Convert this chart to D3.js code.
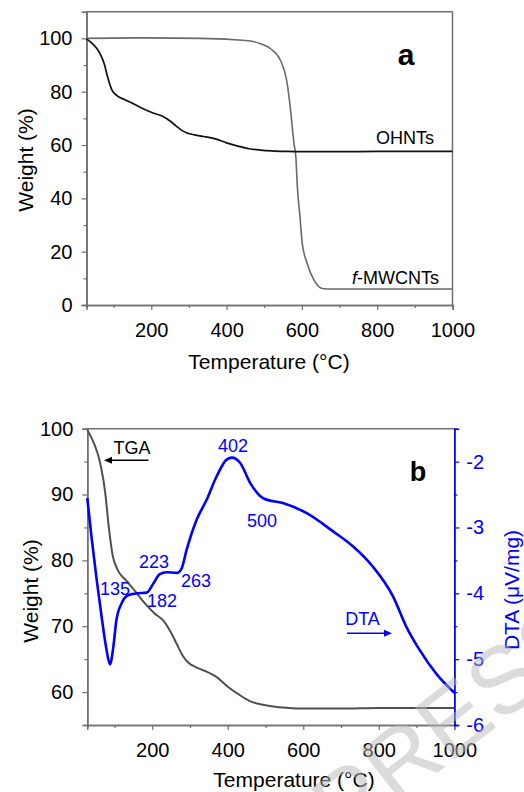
<!DOCTYPE html>
<html><head><meta charset="utf-8">
<script src="https://cdn.jsdelivr.net/npm/d3@7"></script>
<style>body{margin:0;background:#fff}svg{display:block;font-family:"Liberation Sans",Arial,sans-serif}</style>
</head><body><svg id="c" width="524" height="792"></svg>
<script>
// ---- data ----
const tgaTemp = [28,40,55,65,75,85,95,108,130,155,180,205,230,250,265,280,295,315,340,370,400,430,460,490,520,560,600,700,800,900,1000];
const tgaWeight = [99.8,98.5,96.3,94,90.5,85,80.8,78.6,77,75.3,73.5,72,70.8,69,67.3,65.6,64.5,63.8,63.2,62.3,60.8,59.6,58.6,58.1,57.8,57.6,57.5,57.5,57.6,57.6,57.6];
const cntTemp = [28,150,330,420,463,490,517,543,561,570,579,584,588,595,601,614,632,654,680,800,1000];
const cntWeight = [100,100.2,100,99.5,99,98,96.1,91.8,83,73,60.6,55.5,44.3,33,23.1,15.6,9.4,6.2,6,6,6];
const dtaTemp = [28,40,53,66,79,88,97,105,119,136,159,185,203,220,238,265,278,291,317,344,370,397,411,433,460,495,546,608,679,732,785,838,873,908,952,1000];
const dtaValue = [-2.556,-3.19,-3.8,-4.36,-4.86,-5.08,-4.81,-4.41,-4.15,-4.03,-4.0,-3.99,-3.85,-3.71,-3.68,-3.69,-3.62,-3.34,-2.89,-2.58,-2.23,-1.97,-1.94,-2.02,-2.33,-2.56,-2.63,-2.78,-3.06,-3.29,-3.6,-4.05,-4.51,-4.86,-5.22,-5.51];
const xTicks = [200,400,600,800,1000];
const xMinor = [100,300,500,700,900];
const yTicksA = [0,20,40,60,80,100];
const yMinorA = [10,30,50,70,90];
const yTicksB = [60,70,80,90,100];
const yMinorB = [65,75,85,95];
const rTicksB = [-2,-3,-4,-5,-6];
const rMinorB = [-2.5,-3.5,-4.5,-5.5];
const peakLabels = ["402","500","223","263","135","182"];

const svg = d3.select("#c");
const AX = "#707070", BLUE = "#0000ff";

function styleAxis(g, color, fs){
  g.select(".domain").attr("stroke", color).attr("stroke-width",1.5);
  g.selectAll(".tick line").attr("stroke", color).attr("stroke-width",1.2);
  g.selectAll(".tick text").attr("fill", color === AX ? "#000" : color).attr("font-size", fs).attr("font-family","Liberation Sans, Arial, sans-serif");
}

// ============ Panel a ============
const xA = d3.scaleLinear([28,1000],[86.5,452.5]);
const yA = d3.scaleLinear([0,110],[305,11.7]);
const gA = svg.append("g");
// frame top/right
gA.append("line").attr("x1",xA.range()[0]).attr("x2",xA.range()[1]).attr("y1",yA(110)).attr("y2",yA(110)).attr("stroke",AX).attr("stroke-width",1.5);
gA.append("line").attr("x1",xA(1000)).attr("x2",xA(1000)).attr("y1",yA(110)).attr("y2",yA(0)).attr("stroke",AX).attr("stroke-width",1.5);
gA.append("g").attr("transform",`translate(0,${yA(0)})`).call(d3.axisBottom(xA).tickValues(xTicks).tickSize(5).tickPadding(13).tickFormat(d=>String(d))).call(g=>styleAxis(g,AX,20));
gA.append("g").attr("transform",`translate(0,${yA(0)})`).call(d3.axisBottom(xA).tickValues(xMinor).tickSize(3).tickFormat("")).call(g=>styleAxis(g,AX,20));
gA.append("g").attr("transform",`translate(${xA(28)},0)`).call(d3.axisLeft(yA).tickValues(yTicksA).tickSize(5).tickPadding(9).tickFormat(d=>String(d))).call(g=>styleAxis(g,AX,20));
gA.append("g").attr("transform",`translate(${xA(28)},0)`).call(d3.axisLeft(yA).tickValues(yMinorA).tickSize(3).tickFormat("")).call(g=>styleAxis(g,AX,20));

const lineA = (xs,ys)=>d3.line().x((d,i)=>xA(xs[i])).y((d,i)=>yA(ys[i])).curve(d3.curveMonotoneX)(xs);
gA.append("path").attr("d",lineA(cntTemp,cntWeight)).attr("fill","none").attr("stroke","#6a6a6a").attr("stroke-width",1.6);
gA.append("path").attr("d",lineA(tgaTemp,tgaWeight)).attr("fill","none").attr("stroke","#111").attr("stroke-width",1.7);

gA.append("text").attr("x",406).attr("y",65).attr("text-anchor","middle").attr("font-size",30).attr("font-weight","bold").text("a");
gA.append("text").attr("x",434).attr("y",144).attr("text-anchor","end").attr("font-size",18).text("OHNTs");
const fm = gA.append("text").attr("x",439).attr("y",284).attr("text-anchor","end").attr("font-size",18);
fm.append("tspan").attr("font-style","italic").text("f");
fm.append("tspan").text("-MWCNTs");
gA.append("text").attr("x",269).attr("y",369).attr("text-anchor","middle").attr("font-size",21).text("Temperature (°C)");
gA.append("text").attr("transform","translate(32.5,160) rotate(-90)").attr("text-anchor","middle").attr("font-size",21).text("Weight (%)");

// ============ Panel b ============
const xB = d3.scaleLinear([28,1000],[87.3,454.3]);
const yB = d3.scaleLinear([55,100],[725,428.7]);
const yR = d3.scaleLinear([-6,-1.5],[725,428.7]);
const gB = svg.append("g");
gB.append("line").attr("x1",xB(28)).attr("x2",xB(1000)).attr("y1",yB(100)).attr("y2",yB(100)).attr("stroke",AX).attr("stroke-width",1.5);
gB.append("g").attr("transform",`translate(0,${yB(55)})`).call(d3.axisBottom(xB).tickValues(xTicks).tickSize(5).tickPadding(13).tickFormat(d=>String(d))).call(g=>styleAxis(g,AX,20));
gB.append("g").attr("transform",`translate(0,${yB(55)})`).call(d3.axisBottom(xB).tickValues(xMinor).tickSize(3).tickFormat("")).call(g=>styleAxis(g,AX,20));
gB.append("g").attr("transform",`translate(${xB(28)},0)`).call(d3.axisLeft(yB).tickValues(yTicksB).tickSize(5).tickPadding(9).tickFormat(d=>String(d))).call(g=>styleAxis(g,AX,20));
gB.append("g").attr("transform",`translate(${xB(28)},0)`).call(d3.axisLeft(yB).tickValues(yMinorB).tickSize(3).tickFormat("")).call(g=>styleAxis(g,AX,20));
gB.append("g").attr("transform",`translate(${xB(1000)},0)`).call(d3.axisRight(yR).tickValues(rTicksB).tickSize(5).tickPadding(7).tickFormat(d=>"-"+Math.abs(d))).call(g=>styleAxis(g,BLUE,20));
gB.append("g").attr("transform",`translate(${xB(1000)},0)`).call(d3.axisRight(yR).tickValues(rMinorB).tickSize(3).tickFormat("")).call(g=>styleAxis(g,BLUE,20));

gB.append("path").attr("d",d3.line().x((d,i)=>xB(tgaTemp[i])).y((d,i)=>yB(tgaWeight[i])).curve(d3.curveMonotoneX)(tgaTemp))
  .attr("fill","none").attr("stroke","#505050").attr("stroke-width",2);
gB.append("path").attr("d",d3.line().x((d,i)=>xB(dtaTemp[i])).y((d,i)=>yR(dtaValue[i])).curve(d3.curveMonotoneX)(dtaTemp))
  .attr("fill","none").attr("stroke",BLUE).attr("stroke-width",2.6);

const lblPos = [[233,452],[262,527],[154,567.5],[196,586.5],[115,595],[162,606.5]];
peakLabels.forEach((t,i)=>gB.append("text").attr("x",lblPos[i][0]).attr("y",lblPos[i][1]).attr("text-anchor","middle").attr("font-size",18).attr("fill",BLUE).text(t));

gB.append("text").attr("x",132).attr("y",454.3).attr("text-anchor","middle").attr("font-size",18).text("TGA");
gB.append("line").attr("x1",148.5).attr("x2",110).attr("y1",460.3).attr("y2",460.3).attr("stroke","#000").attr("stroke-width",1.6);
gB.append("path").attr("d","M104,460.3 L112,456.8 L112,463.8 Z").attr("fill","#000");
gB.append("text").attr("x",362.5).attr("y",625).attr("text-anchor","middle").attr("font-size",18).attr("fill",BLUE).text("DTA");
gB.append("line").attr("x1",347).attr("x2",386).attr("y1",633.3).attr("y2",633.3).attr("stroke",BLUE).attr("stroke-width",1.6);
gB.append("path").attr("d","M392,633.3 L384,629.8 L384,636.8 Z").attr("fill",BLUE);

gB.append("text").attr("x",418).attr("y",481).attr("text-anchor","middle").attr("font-size",27).attr("font-weight","bold").text("b");
gB.append("text").attr("x",294).attr("y",787).attr("text-anchor","middle").attr("font-size",21).text("Temperature (°C)");
gB.append("text").attr("transform","translate(37.5,591) rotate(-90)").attr("text-anchor","middle").attr("font-size",21).text("Weight (%)");
gB.append("text").attr("transform","translate(518.5,590) rotate(-90)").attr("text-anchor","middle").attr("font-size",21).attr("fill",BLUE).text("DTA (μV/mg)");

// watermark
svg.append("text").attr("transform","translate(345,845) rotate(-38)").attr("font-size",95).attr("fill","#b8b8b8").attr("opacity",0.5).text("PRESS");
</script></body></html>
